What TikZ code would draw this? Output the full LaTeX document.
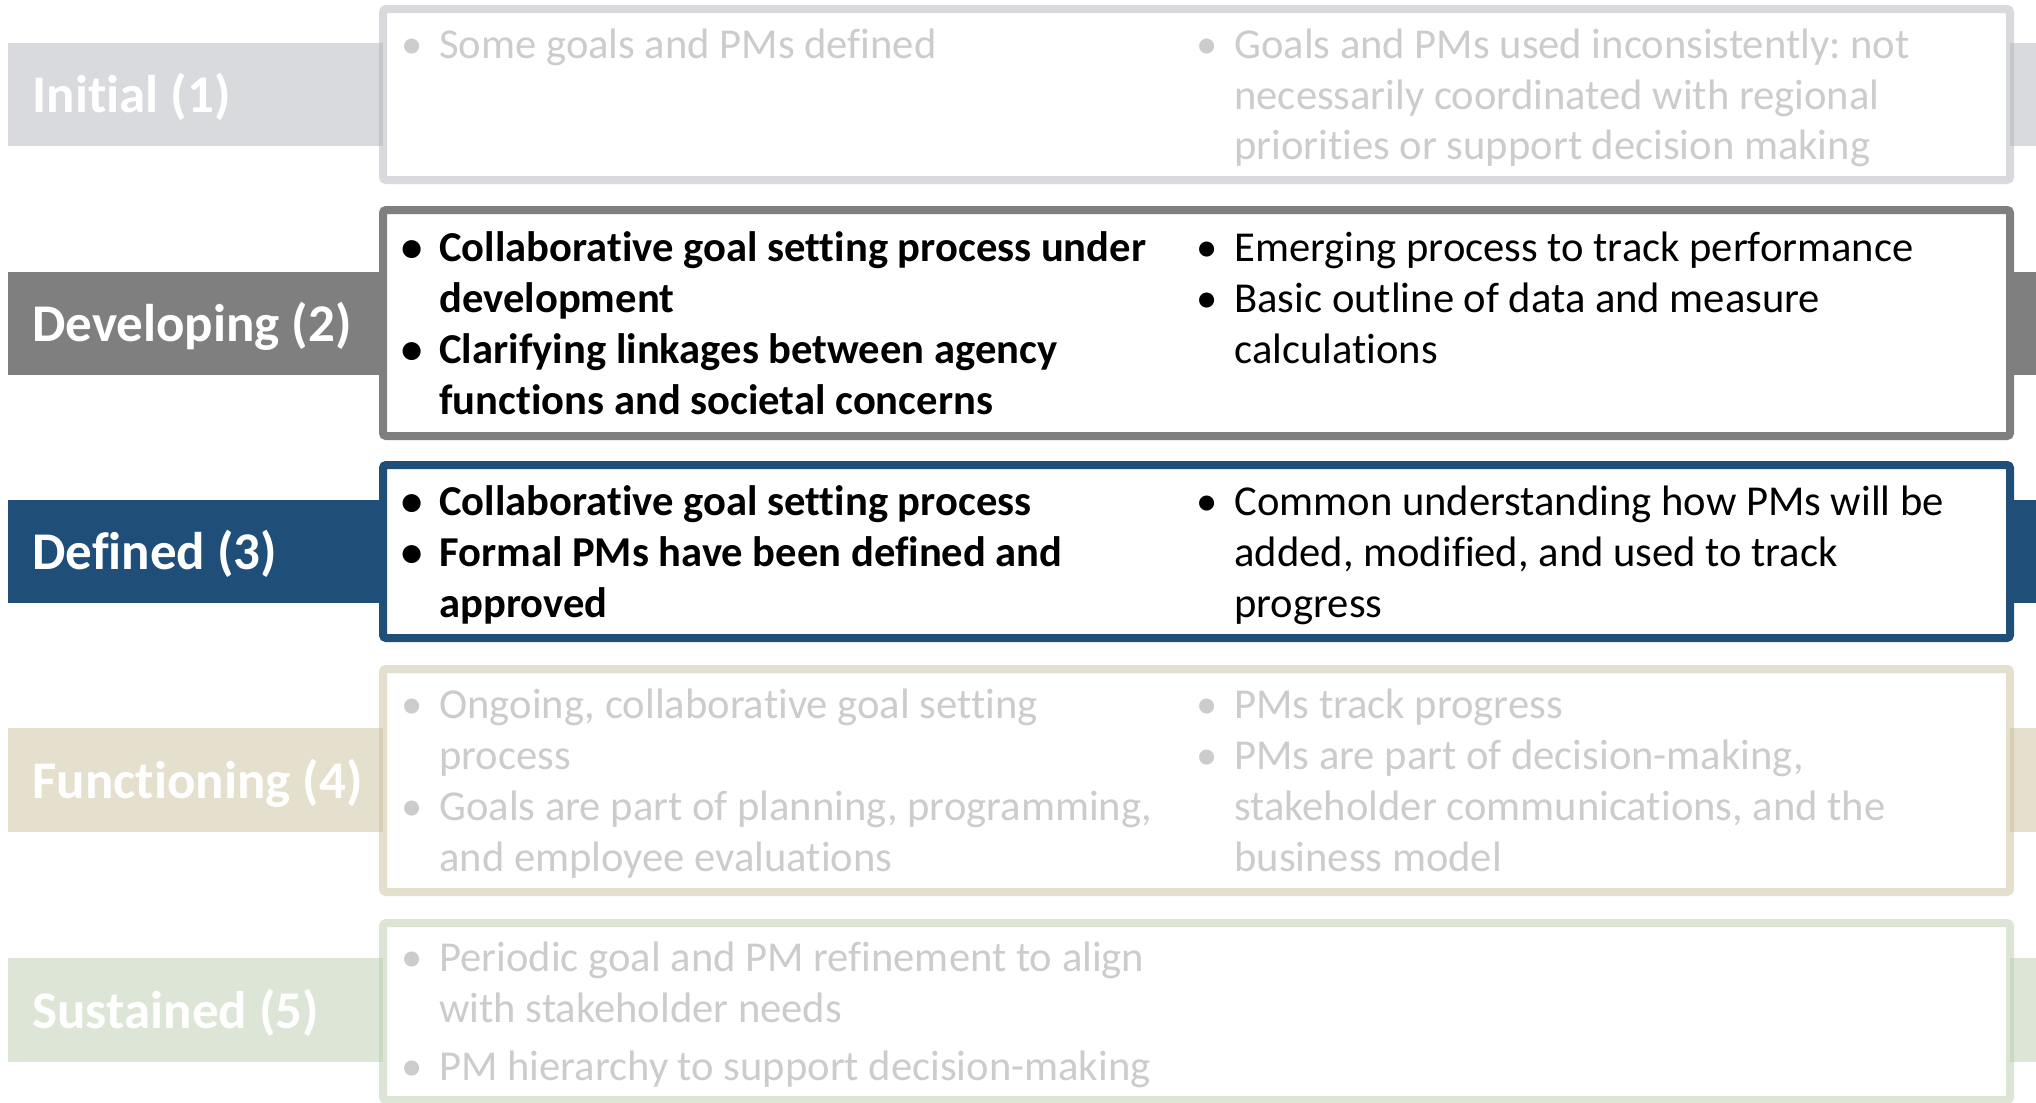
\documentclass[tikz,border=0pt]{standalone}
\usepackage{fontspec}
\setmainfont[Ligatures=NoCommon]{Carlito}
\frenchspacing
\definecolor{initC}{HTML}{D9DADD}
\definecolor{initB}{HTML}{B3B5BB}
\definecolor{devC}{HTML}{7F7F7F}
\definecolor{defC}{HTML}{1F4E79}
\definecolor{funC}{HTML}{E5DFCD}
\definecolor{funB}{HTML}{CBBF9B}
\definecolor{susC}{HTML}{DDE6D6}
\definecolor{susB}{HTML}{BBCDAD}
\definecolor{fadeT}{HTML}{CCCCCC}
\newcommand\colitem[1]{\parbox[t]{380pt}{\raggedright\frenchspacing #1}}
\begin{document}
\begin{tikzpicture}[x=0.5pt,y=-0.5pt,
  body/.style={anchor=base west, inner sep=0pt, font=\fontsize{21.3}{25.5}\selectfont},
  boldbody/.style={body, font=\fontsize{21.3}{25.5}\selectfont\bfseries},
  faded/.style={text=fadeT},
  heading/.style={anchor=west, inner sep=0pt, text=white,
    font=\fontsize{26.5}{30}\selectfont\bfseries},
  frame/.style={line width=4pt, rounded corners=1.5pt}]
\useasboundingbox (0,0) rectangle (2036,1103);

% ---- stage strips (full width, behind the boxes)
\fill[initC] (8,43)   rectangle (2040,146);
\fill[devC]  (8,272)  rectangle (2040,375);
\fill[defC]  (8,500)  rectangle (2040,603);
\fill[funC]  (8,728)  rectangle (2040,832);
\fill[susC]  (8,958)  rectangle (2040,1062);

% ---- white content boxes
\fill[white] (383,9)   rectangle (2010,180);
\fill[white] (383,210) rectangle (2010,436);
\fill[white] (383,465) rectangle (2010,638);
\fill[white] (383,669) rectangle (2010,892);
\fill[white] (383,923) rectangle (2010,1100);

% ---- box frames
\draw[frame, initB, draw opacity=.5] (383,9)   rectangle (2010,180);
\draw[frame, devC]                   (383,210) rectangle (2010,436);
\draw[frame, defC]                   (383,465) rectangle (2010,638);
\draw[frame, funB, draw opacity=.5]  (383,669) rectangle (2010,892);
\draw[frame, susB, draw opacity=.5]  (383,923) rectangle (2010,1100);

% ---- stage names
\node[heading] (h1) at (32,97)  {Initial (1)};
\node[heading] (h2) at (32,326) {Developing (2)};
\node[heading] (h3) at (32,554) {Defined (3)};
\node[heading] (h4) at (32,783) {Functioning (4)};
\node[heading] (h5) at (32,1013) {Sustained (5)};

% ---- Initial (1)
\node[body, faded] (i1b) at (401,58) {•};
\node[body, faded] (i1t) at (439,58) {\colitem{Some goals and PMs defined}};
\node[body, faded] (i2b) at (1196,58) {•};
\node[body, faded] (i2t) at (1234,58) {\colitem{Goals and PMs used inconsistently: not\\necessarily coordinated with regional\\priorities or support decision making}};

% ---- Developing (2)
\node[boldbody] (d1b) at (401,261) {•};
\node[boldbody] (d1t) at (439,261) {\colitem{Collaborative goal setting process under\\development}};
\node[boldbody] (d2b) at (401,363) {•};
\node[boldbody] (d2t) at (439,363) {\colitem{Clarifying linkages between agency\\functions and societal concerns}};
\node[body] (d3b) at (1196,261) {•};
\node[body] (d3t) at (1234,261) {\colitem{Emerging process to track performance}};
\node[body] (d4b) at (1196,312) {•};
\node[body] (d4t) at (1234,312) {\colitem{Basic outline of data and measure\\calculations}};

% ---- Defined (3)
\node[boldbody] (f1b) at (401,515) {•};
\node[boldbody] (f1t) at (439,515) {\colitem{Collaborative goal setting process}};
\node[boldbody] (f2b) at (401,566) {•};
\node[boldbody] (f2t) at (439,566) {\colitem{Formal PMs have been defined and\\approved}};
\node[body] (f3b) at (1196,515) {•};
\node[body] (f3t) at (1234,515) {\colitem{Common understanding how PMs will be\\added, modified, and used to track\\progress}};

% ---- Functioning (4)
\node[body, faded] (n1b) at (401,718) {•};
\node[body, faded] (n1t) at (439,718) {\colitem{Ongoing, collaborative goal setting\\process}};
\node[body, faded] (n2b) at (401,820) {•};
\node[body, faded] (n2t) at (439,820) {\colitem{Goals are part of planning, programming,\\and employee evaluations}};
\node[body, faded] (n3b) at (1196,718) {•};
\node[body, faded] (n3t) at (1234,718) {\colitem{PMs track progress}};
\node[body, faded] (n4b) at (1196,769) {•};
\node[body, faded] (n4t) at (1234,769) {\colitem{PMs are part of decision-making,\\stakeholder communications, and the\\business model}};

% ---- Sustained (5)
\node[body, faded] (s1b) at (401,971) {•};
\node[body, faded] (s1t) at (439,971) {\colitem{Periodic goal and PM refinement to align\\with stakeholder needs}};
\node[body, faded] (s2b) at (401,1080) {•};
\node[body, faded] (s2t) at (439,1080) {\colitem{PM hierarchy to support decision-making}};
\end{tikzpicture}
\end{document}
